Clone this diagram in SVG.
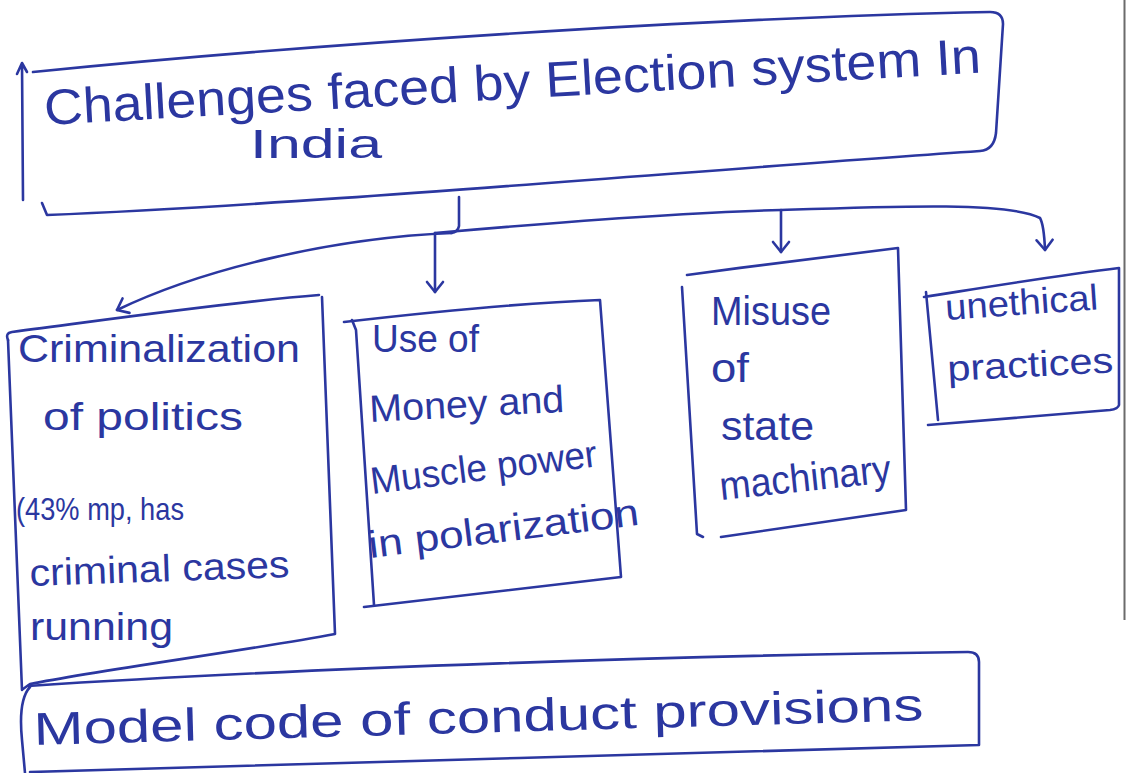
<svg xmlns="http://www.w3.org/2000/svg" width="1126" height="773" viewBox="0 0 1126 773">
  <style>
    .ink { fill: none; stroke: #2b37a0; stroke-width: 2.6; stroke-linecap: round; stroke-linejoin: round; }
    .hand { font-family: "Liberation Sans", "DejaVu Sans", sans-serif; fill: #2b37a0; }
    .t1 { font-size: 50px; }
    .t2 { font-size: 38px; }
    .t3 { font-size: 40px; }
    .t4 { font-size: 36px; }
    .t5 { font-size: 46px; }
    .t6 { font-size: 32px; }
  </style>
  <defs>
    <marker id="pen-arrow" markerUnits="userSpaceOnUse" markerWidth="24" markerHeight="24" viewBox="-12 -12 24 24" refX="0" refY="0" orient="auto">
      <path d="M -10 -8 L 0 0 L -10 8" fill="none" stroke="#2b37a0" stroke-width="2.6" stroke-linecap="round" stroke-linejoin="round"/>
    </marker>
  </defs>

  <rect x="0" y="0" width="1126" height="773" fill="#ffffff"/>
  <!-- edge of the scanned sheet -->
  <line x1="1124.5" y1="0" x2="1124.5" y2="620" stroke="#6b6b6b" stroke-width="2"/>

  <!-- main heading box -->
  <g id="node-title">
    <path class="ink" d="M33,72 C300,45 700,18 990,12 Q1003,12 1003,24 L996,133 Q994,150 980,151 C700,170 300,205 47,215 L42,203"/>
    <path class="ink" d="M23,200 L22,63 M17,74 L22,63 L27,72"/>
    <text class="hand t1" x="45" y="125" textLength="938" lengthAdjust="spacingAndGlyphs" transform="rotate(-3.2 45 125)">Challenges faced by Election system In</text>
    <text class="hand t3" x="250" y="158" textLength="132" lengthAdjust="spacingAndGlyphs">India</text>
  </g>

  <!-- branch lines from the heading to the four challenges -->
  <g id="connectors">
    <path class="ink" d="M459,197 L459,226 Q458,232 451,233"/>
    <path class="ink" d="M452,233 C330,238 200,270 117,310" marker-end="url(#pen-arrow)"/>
    <path class="ink" d="M435,233 L435,292" marker-end="url(#pen-arrow)"/>
    <path class="ink" d="M435,233 C560,222 700,212 781,210 C900,206 1010,202 1040,218 Q1044,225 1045,250" marker-end="url(#pen-arrow)"/>
    <path class="ink" d="M781,210 L781,252" marker-end="url(#pen-arrow)"/>
  </g>

  <!-- criminalization of politics -->
  <g id="node-criminalization">
    <path class="ink" d="M8,340 Q5,333 12,332 C120,318 230,302 319,295"/>
    <path class="ink" d="M322,297 L335,634 C250,650 100,670 30,684 L23,689"/>
    <path class="ink" d="M8,340 L22,690"/>
    <text class="hand t2" x="18" y="362" textLength="282" lengthAdjust="spacingAndGlyphs">Criminalization</text>
    <text class="hand t2" x="43" y="430" textLength="200" lengthAdjust="spacingAndGlyphs">of politics</text>
    <text class="hand t6" x="16" y="520" textLength="168" lengthAdjust="spacingAndGlyphs">(43% mp, has</text>
    <text class="hand t2" x="30" y="586" textLength="260" lengthAdjust="spacingAndGlyphs" transform="rotate(-2 30 586)">criminal cases</text>
    <text class="hand t2" x="30" y="640" textLength="143" lengthAdjust="spacingAndGlyphs">running</text>
  </g>

  <!-- money and muscle power -->
  <g id="node-money">
    <path class="ink" d="M344,322 C430,312 520,303 600,300 L621,577 L364,607"/>
    <path class="ink" d="M352,320 L356,330 L374,605"/>
    <text class="hand t2" x="372" y="352" textLength="107" lengthAdjust="spacingAndGlyphs">Use of</text>
    <text class="hand t2" x="370" y="422" textLength="195" lengthAdjust="spacingAndGlyphs" transform="rotate(-3 370 422)">Money and</text>
    <text class="hand t2" x="372" y="494" textLength="228" lengthAdjust="spacingAndGlyphs" transform="rotate(-7 372 494)">Muscle power</text>
    <text class="hand t2" x="370" y="558" textLength="272" lengthAdjust="spacingAndGlyphs" transform="rotate(-7 370 558)">in polarization</text>
  </g>

  <!-- misuse of state machinery -->
  <g id="node-misuse">
    <path class="ink" d="M687,275 C760,265 840,255 898,248 L906,510 L721,537"/>
    <path class="ink" d="M682,287 L697,534 L703,537"/>
    <text class="hand t3" x="711" y="325" textLength="120" lengthAdjust="spacingAndGlyphs">Misuse</text>
    <text class="hand t3" x="711" y="382" textLength="38" lengthAdjust="spacingAndGlyphs">of</text>
    <text class="hand t3" x="721" y="440" textLength="93" lengthAdjust="spacingAndGlyphs">state</text>
    <text class="hand t3" x="721" y="500" textLength="172" lengthAdjust="spacingAndGlyphs" transform="rotate(-6 721 500)">machinary</text>
  </g>

  <!-- unethical practices -->
  <g id="node-unethical">
    <path class="ink" d="M924,297 C1000,285 1060,275 1119,268 L1119,405 Q1118,409 1110,410 L928,425"/>
    <path class="ink" d="M926,292 L938,420"/>
    <text class="hand t4" x="946" y="320" textLength="153" lengthAdjust="spacingAndGlyphs" transform="rotate(-4 946 320)">unethical</text>
    <text class="hand t4" x="948" y="381" textLength="166" lengthAdjust="spacingAndGlyphs" transform="rotate(-3 948 381)">practices</text>
  </g>

  <!-- model code of conduct -->
  <g id="node-model-code">
    <path class="ink" d="M28,686 C300,668 700,655 968,652 Q979,652 979,662 L979,745 C700,752 300,765 30,772"/>
    <path class="ink" d="M30,687 Q18,700 22,740 L25,773"/>
    <text class="hand t5" x="34" y="745" textLength="890" lengthAdjust="spacingAndGlyphs" transform="rotate(-1.6 34 745)">Model code of conduct provisions</text>
  </g>
</svg>
